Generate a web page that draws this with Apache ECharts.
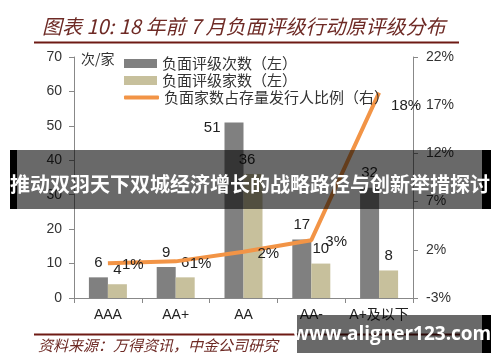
<!DOCTYPE html>
<html><head><meta charset="utf-8">
<script src="https://cdn.jsdelivr.net/npm/echarts@6/dist/echarts.min.js"></script>
<style>html,body{margin:0;padding:0;background:#fff}#c{width:500px;height:362px}</style>
</head><body><div id="c"></div>
<script>
var categories = ['AAA', 'AA+', 'AA', 'AA-', 'A+及以下'];
var ratingActions = [6, 9, 51, 17, 32];      // 负面评级次数（左）
var ratedIssuers = [4, 6, 36, 10, 8];        // 负面评级家数（左）
var issuerShare = [0.6, 0.8, 1.8, 3.0, 18.3]; // 负面家数占存量发行人比例（右）, %
var leftTicks = [0, 70, 10];
var rightTicks = [-3, 22, 5];

var F = '"Liberation Sans", "Noto Sans CJK SC", sans-serif';
var CJK = '"Noto Sans CJK SC", sans-serif';
var chart = echarts.init(document.getElementById('c'), null, {renderer: 'canvas'});
var axisColor = '#888';
var names = ['负面评级次数（左）', '负面评级家数（左）', '负面家数占存量发行人比例（右）'];

var actionData = ratingActions.map(function (v, i) {
  if (i === 2) return {value: v, label: {position: 'left', distance: 4, offset: [0, -(v*3.44) / 2 + 5]}};
  return v;
});
var issuerData = ratedIssuers.map(function (v, i) {
  if (i === 2) return {value: v, label: {offset: [-6, 0]}};
  return v;
});
var shareLabelData = issuerShare.map(function (v, i) {
  if (i === 4) return {value: v, label: {offset: [-2, 13]}};
  return v;
});

chart.setOption({
  animation: false,
  title: {
    text: '图表 10: 18 年前 7 月负面评级行动原评级分布',
    left: 37, top: 11,
    textStyle: {fontFamily: CJK, fontSize: 20, fontWeight: 'normal', fontStyle: 'italic', color: '#6E2A25'}
  },
  legend: [{
    orient: 'vertical', left: 119, top: 51, itemGap: 2,
    itemWidth: 33, itemHeight: 9, icon: 'rect',
    textStyle: {fontFamily: CJK, fontSize: 15, color: '#333', lineHeight: 15},
    data: [names[0], names[1]]
  }, {
    orient: 'vertical', left: 119, top: 85,
    itemWidth: 35, itemHeight: 4, icon: 'roundRect',
    textStyle: {fontFamily: CJK, fontSize: 15, color: '#333', lineHeight: 15},
    data: [names[2]]
  }],
  grid: {left: 74, right: 87, top: 57, bottom: 64},
  xAxis: {
    type: 'category', data: categories,
    axisLine: {lineStyle: {color: axisColor}},
    axisTick: {show: true, length: 5, lineStyle: {color: axisColor}},
    axisLabel: {margin: 10, interval: 0, fontFamily: F, fontSize: 14, color: '#222'}
  },
  yAxis: [{
    type: 'value', min: leftTicks[0], max: leftTicks[1], interval: leftTicks[2],
    axisLine: {show: true, lineStyle: {color: axisColor}},
    axisTick: {show: true, length: 5, lineStyle: {color: axisColor}},
    splitLine: {show: false},
    axisLabel: {margin: 12, fontFamily: F, fontSize: 14, color: '#333'}
  }, {
    type: 'value', min: rightTicks[0], max: rightTicks[1], interval: rightTicks[2],
    position: 'right',
    axisLine: {show: true, lineStyle: {color: axisColor}},
    axisTick: {show: true, length: 5, lineStyle: {color: axisColor}},
    splitLine: {show: false},
    axisLabel: {margin: 13, fontFamily: F, fontSize: 14, color: '#333', formatter: '{value}%'}
  }],
  series: [{
    name: names[0], type: 'bar', data: actionData, barWidth: 19, barGap: '0%',
    itemStyle: {color: '#808080'},
    label: {show: true, position: 'top', distance: 7, fontFamily: F, fontSize: 15, color: '#222'}
  }, {
    name: names[1], type: 'bar', data: issuerData, barWidth: 19, barGap: '0%',
    itemStyle: {color: '#C7C09C'},
    label: {show: true, position: 'top', distance: 7, fontFamily: F, fontSize: 15, color: '#222'}
  }, {
    name: names[2], type: 'line', yAxisIndex: 1, data: issuerShare,
    symbol: 'none', showSymbol: false,
    lineStyle: {color: '#F29446', width: 4},
    itemStyle: {color: '#F29446'}
  }, {
    name: 'shareLabels', type: 'scatter', yAxisIndex: 1, data: shareLabelData,
    symbolSize: 0, itemStyle: {color: '#F29446', opacity: 1}, silent: true, z: 5,
    label: {show: true, position: 'right', distance: 14, offset: [0, 2],
      fontFamily: F, fontSize: 15, color: '#222', opacity: 1,
      formatter: function (p) { return Math.round(p.value) + '%'; }}
  }],
  graphic: [
    {type: 'line', shape: {x1: 34, y1: 42.5, x2: 459, y2: 42.5}, style: {stroke: '#6E1A14', lineWidth: 2}},
    {type: 'text', left: 81, top: 52, style: {text: '次/家', font: '14px ' + CJK, fill: '#333'}},
    {type: 'line', shape: {x1: 34, y1: 334.5, x2: 460, y2: 334.5}, style: {stroke: '#6E1A14', lineWidth: 2}},
    {type: 'text', left: 38, top: 338, style: {text: '资料来源：万得资讯，中金公司研究', font: 'italic 15px ' + CJK, fill: '#6E2A25'}},
    {type: 'rect', shape: {x: 17, y: 150, width: 465, height: 59}, style: {fill: 'rgba(0,0,0,0.59)'}, z: 100},
    {type: 'rect', shape: {x: 10, y: 150, width: 7, height: 59}, style: {fill: '#000'}, z: 100},
    {type: 'rect', shape: {x: 482, y: 150, width: 9, height: 59}, style: {fill: '#000'}, z: 100},
    {type: 'text', x: 250, y: 184, z: 101, style: {text: '推动双羽天下双城经济增长的战略路径与创新举措探讨', font: 'bold 20px ' + CJK, fill: '#fff', align: 'center', verticalAlign: 'middle'}},
    {type: 'rect', shape: {x: 297, y: 315, width: 185, height: 38}, style: {fill: 'rgba(0,0,0,0.59)'}, z: 100},
    {type: 'rect', shape: {x: 482, y: 315, width: 9, height: 38}, style: {fill: '#000'}, z: 100},
    {type: 'text', x: 392, y: 335, z: 101, style: {text: 'www.aligner123.com', font: 'bold 19px "Open Sans", "DejaVu Sans", sans-serif', fill: '#fff', align: 'center', verticalAlign: 'middle'}}
  ]
});
</script>
</body></html>
